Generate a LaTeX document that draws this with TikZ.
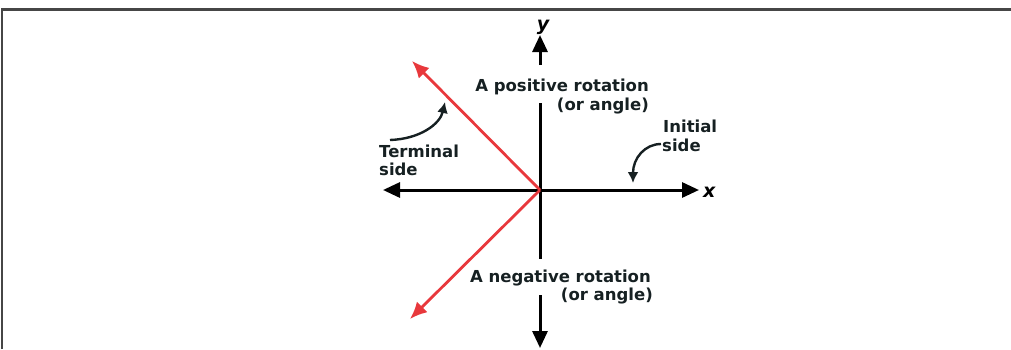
\documentclass[tikz,border=0pt]{standalone}
\usepackage{fontspec}
\setmainfont{DejaVu Sans}
\usetikzlibrary{arrows.meta}
\definecolor{txt}{RGB}{22,32,34}
\definecolor{redc}{RGB}{232,56,60}
\begin{document}
\begin{tikzpicture}[x=1pt,y=-1pt,
  lbl/.style={font=\bfseries\fontsize{16.5}{19}\selectfont, text=txt, inner sep=0pt},
  axlbl/.style={font=\bfseries\itshape\fontsize{19}{20}\selectfont, inner sep=0pt},
  axis/.style={line width=3pt, black},
  axtip/.style={-{Triangle[length=17pt,width=15pt]}},
  ray/.style={line width=2.8pt, redc, -{Latex[length=17pt,width=15pt]}},
  curv/.style={line width=2.4pt, txt, -{Latex[length=11pt,width=11pt]}}]
\useasboundingbox (0,0) rectangle (1011,349);
\draw[gray!55!black, line width=2.5pt] (2,349) -- (2,9.5) -- (1011,9.5);
% axes
\coordinate (O) at (540,190);
\coordinate (xl) at (383,190);
\coordinate (xr) at (699,190);
\coordinate (ytop) at (540,35);
\coordinate (ya) at (540,65);
\coordinate (yb) at (540,103);
\coordinate (yc) at (540,259);
\coordinate (yd) at (540,295);
\coordinate (ybot) at (540,348);
\draw[axis,{Triangle[length=17pt,width=15pt]}-{Triangle[length=17pt,width=15pt]}] (xl) -- (xr);
\draw[axis,axtip] (ya) -- (ytop);
\draw[axis] (yb) -- (yc);
\draw[axis,axtip] (yd) -- (ybot);
\node[axlbl, anchor=base] (ylab) at (543,30) {y};
\node[axlbl, anchor=base west] (xlab) at (703,197) {x};
% red rays
\coordinate (term) at (412,61);
\coordinate (neg) at (410,319);
\draw[ray] (O) -- (term);
\draw[ray] (O) -- (neg);
% labels
\node[lbl, anchor=base east] (pos1) at (649,91) {A positive rotation};
\node[lbl, anchor=base east] (pos2) at (649,110) {(or angle)};
\node[lbl, anchor=base east] (neg1) at (651,282) {A negative rotation};
\node[lbl, anchor=base east] (neg2) at (653,300) {(or angle)};
\node[lbl, anchor=base west] (term1) at (379,157) {Terminal};
\node[lbl, anchor=base west] (term2) at (379,175) {side};
\node[lbl, anchor=base west] (init1) at (663,132) {Initial};
\node[lbl, anchor=base west] (init2) at (662,151) {side};
% curved pointers
\coordinate (ts) at (390,140);
\coordinate (tt) at (445,102);
\coordinate (is) at (661,144);
\coordinate (it) at (633,183);
\draw[curv] (ts) .. controls (420,139) and (440,124) .. (tt);
\draw[curv] (is) .. controls (645,144) and (633,158) .. (it);
\end{tikzpicture}
\end{document}
